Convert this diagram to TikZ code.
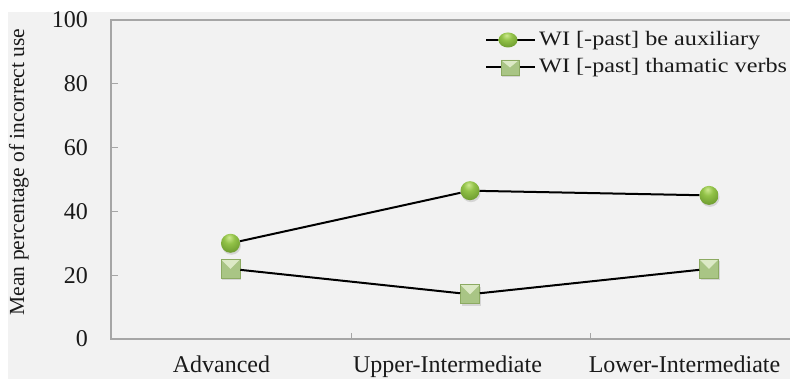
\documentclass[tikz,border=0pt]{standalone}
\usepackage{fontspec}
\setmainfont{Liberation Serif}
\newfontfamily\legendfont[FakeStretch=1.18]{Liberation Serif}
\usepackage{tikz}
\usetikzlibrary{positioning,shadows,shapes.geometric}
\definecolor{plotbg}{HTML}{F2F2F2}
\definecolor{axisgrey}{HTML}{A6A6A6}
\definecolor{ballhi}{HTML}{CDE98F}
\definecolor{ballmid}{HTML}{92C248}
\definecolor{balllow}{HTML}{6E9C30}
\definecolor{balldark}{HTML}{4A7419}
\definecolor{boxgreen}{HTML}{A9C585}
\definecolor{boxlight}{HTML}{DCE9C6}
\definecolor{boxedge}{HTML}{8CAA62}
\definecolor{inktext}{HTML}{1A1A1A}
\pgfdeclareradialshading{greenball}{\pgfqpoint{-4bp}{16bp}}{color(0bp)=(ballhi); color(14bp)=(ballmid);
  color(34bp)=(balllow); color(52bp)=(balldark); color(80bp)=(balldark)}

\begin{document}
\begin{tikzpicture}[x=1pt,y=1pt,
  axisline/.style={draw=axisgrey,line width=1.1pt},
  tick/.style={draw=axisgrey,line width=0.8pt},
  series/.style={draw=black,line width=2pt},
  ticklbl/.style={anchor=east,inner sep=0pt,text=inktext,font=\fontsize{24}{28}\selectfont},
  catlbl/.style={anchor=base,inner sep=0pt,text=inktext,font=\fontsize{24}{28}\selectfont},
  leglbl/.style={anchor=base west,inner sep=0pt,text=inktext,font=\legendfont\fontsize{20.5}{24}\selectfont},
  ballmark/.style={circle,minimum size=19pt,inner sep=0pt,shading=greenball,
    drop shadow={shadow xshift=1pt,shadow yshift=-2pt,opacity=0.25}},
  boxmark/.style={rectangle,minimum size=19pt,inner sep=0pt,fill=boxgreen,draw=boxedge,line width=0.6pt,
    drop shadow={shadow xshift=1pt,shadow yshift=-2pt,opacity=0.25},
    path picture={\fill[boxlight] (path picture bounding box.north west) -- (path picture bounding box.center)
      -- (path picture bounding box.north east) -- cycle;}},
  legball/.style={ellipse,minimum width=19pt,minimum height=15pt,inner sep=0pt,shading=greenball},
  legbox/.style={boxmark,minimum width=18pt,minimum height=15pt,drop shadow={opacity=0}}]
  \useasboundingbox (0,0) rectangle (790,379);
  \fill[plotbg] (8,0) rectangle (790,367);
  % frame and ticks
  \draw[axisline] (790,359) -- (111,359) -- (111,40) -- (790,40);
  \foreach \v in {20,40,60,80} \draw[tick] (111,{40+3.19*\v}) -- (118,{40+3.19*\v});
  \draw[tick] (351,40) -- (351,46);
  \draw[tick] (590,40) -- (590,46);
  % value axis
  \node[ticklbl] (t0) at (88,40) {0};
  \node[ticklbl] (t20) at (88,103.8) {20};
  \node[ticklbl] (t40) at (88,167.6) {40};
  \node[ticklbl] (t60) at (88,231.4) {60};
  \node[ticklbl] (t80) at (88,295.2) {80};
  \node[ticklbl] (t100) at (88,359) {100};
  \node[rotate=90,inner sep=0pt,text=inktext,font=\fontsize{21.5}{26}\selectfont] (ytitle) at (19,207)
    {Mean percentage of incorrect use};
  % categories
  \node[catlbl] (adv) at (221.5,6) {Advanced};
  \node[catlbl] (upp) at (447.5,6) {Upper-Intermediate};
  \node[catlbl] (low) at (684.5,6) {Lower-Intermediate};
  % be auxiliary
  \node[ballmark] (b1) at (230.5,135.7) {};
  \node[ballmark] (b2) at (470,188.3) {};
  \node[ballmark] (b3) at (709,183.6) {};
  % thematic verbs
  \node[boxmark] (v1) at (230.5,110.2) {};
  \node[boxmark] (v2) at (470,84.7) {};
  \node[boxmark] (v3) at (709,110.2) {};
  \draw[series] (b1) -- (b2) -- (b3);
  \draw[series] (v1) -- (v2) -- (v3);
  % legend
  \coordinate (la1) at (486,339);
  \coordinate (lb1) at (535,339);
  \coordinate (la2) at (486,311.5);
  \coordinate (lb2) at (535,311.5);
  \draw[series] (la1) -- (lb1);
  \draw[series] (la2) -- (lb2);
  \node[legball] (lgb) at (508,339) {};
  \node[legbox] (lgv) at (510,311.5) {};
  \node[leglbl] (lgbt) at (539,333) {WI [-past] be auxiliary};
  \node[leglbl] (lgvt) at (539,306) {WI [-past] thamatic verbs};
\end{tikzpicture}
\end{document}
